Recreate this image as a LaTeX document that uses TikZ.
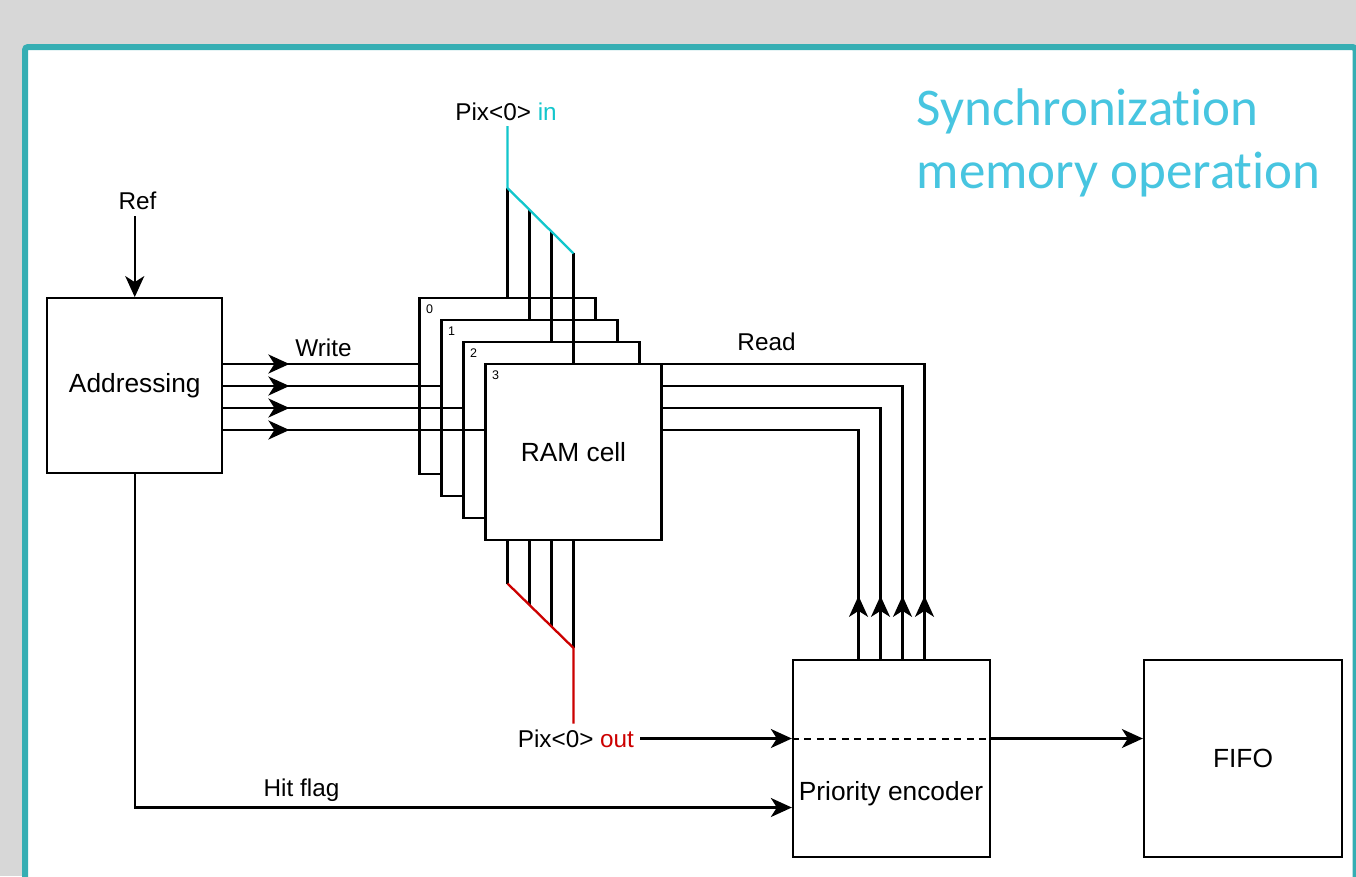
\documentclass[tikz,border=0pt]{standalone}
\usepackage{fontspec}
\setmainfont{Liberation Sans}
\newfontfamily\titlefont[Ligatures=NoCommon]{Carlito}
\usetikzlibrary{arrows.meta,decorations.markings}
\definecolor{framec}{HTML}{36AEB3}
\definecolor{bgc}{HTML}{D7D7D7}
\definecolor{titlec}{HTML}{47C5E0}
\definecolor{cyanc}{HTML}{12C6CC}
\definecolor{redc}{HTML}{CC0000}
\begin{document}
\begin{tikzpicture}[x=1pt,y=-1pt,line width=2.3pt,
  >={Stealth[length=21pt,width=19pt,inset=6pt]},
  box/.style={draw,fill=white,inner sep=0pt},
  bigtxt/.style={font=\fontsize{26.3}{31}\selectfont},
  smalltxt/.style={font=\fontsize{24.3}{29}\selectfont},
  tinytxt/.style={font=\fontsize{12.5}{15}\selectfont,inner sep=0pt},
  titletxt/.style={font=\fontsize{53}{64}\titlefont,text=titlec,inner sep=0pt,anchor=base west},
  midarr/.style={postaction={decorate,decoration={markings,mark=at position #1 with {\arrow{>}}}}}]
\useasboundingbox (0,0) rectangle (1356,876);
\fill[bgc] (0,0) rectangle (1356,876);
\draw[framec,line width=6pt,fill=white,rounded corners=3pt] (25,47) rectangle (1355.5,905);

% title
\node[titletxt] (title1) at (915.5,125) {Synchronization};
\node[titletxt] (title2) at (915.5,188) {memory operation};

% addressing
\node[box,bigtxt,minimum width=175pt,minimum height=175pt] (addr) at (134.75,385.75) {Addressing};
\node[smalltxt,anchor=base,inner sep=0pt,outer sep=7pt] (ref) at (137.5,209) {Ref};
\draw[->] (ref.south -| addr.north) -- (addr.north);

% RAM stack
\foreach \i in {0,...,3} {
  \node[box,minimum width=176pt,minimum height=176pt] (ram\i) at (507.5+22*\i,386+22*\i) {};
}
\node[bigtxt] (ramtxt) at (ram3.center) {RAM cell};
\foreach \i in {0,...,3} {
  \node[tinytxt] (n\i) at (429.5+22*\i,309+22*\i) {\i};
}

% Pix<0> in
\node[smalltxt,anchor=base,inner sep=0pt,outer sep=6pt] (pixin) at (506,120) {Pix<0> \textcolor{cyanc}{in}};
\foreach \i in {0,...,3} {
  \coordinate (tin\i) at (507.5+22*\i,188+21.8*\i);
  \coordinate (bout\i) at (507.5+22*\i,583.5+21.5*\i);
}
\foreach \i in {0,...,3} {
  \draw (tin\i) -- (ram\i.north);
  \draw (ram3.south -| bout\i) -- (bout\i);
}
\draw[cyanc] (pixin.south -| tin0) -- (tin0) -- (tin3);

% Pix<0> out
\node[smalltxt,anchor=east,inner sep=0pt,outer sep=6pt] (pixout) at (640,738.5) {Pix<0> \textcolor{redc}{out}};
\draw[redc] (bout0) -- (bout3) -- (pixout.north -| bout3);

% priority encoder and FIFO
\node[box,minimum width=197pt,minimum height=197pt] (pe) at (891.5,758.5) {};
\node[bigtxt,anchor=base,inner sep=0pt] (petxt) at (891,800) {Priority encoder};
\node[box,bigtxt,minimum width=198pt,minimum height=197pt] (fifo) at (1243,758.5) {FIFO};

\draw[->] (pixout.east) -- (pixout.east -| pe.west);
\draw[dash pattern=on 7pt off 5.5pt,line width=2pt] (pixout.east -| pe.west) -- (pixout.east -| pe.east);
\draw[->] (pixout.east -| pe.east) -- (pixout.east -| fifo.west);

% hit flag
\coordinate (hity) at (0,807.5);
\draw[->] (addr.south) |- (pe.west |- hity);
\node[smalltxt,anchor=base,inner sep=0pt] (hit) at (301.5,796) {Hit flag};

% write and read lines
\foreach \k in {0,...,3} {
  \coordinate (wy\k) at (0,364+22*\k);
  \coordinate (rx\k) at (924.5-22*\k,0);
}
\foreach \k in {0,...,3} {
  \draw[midarr=66pt] (addr.east |- wy\k) -- (ram\k.west |- wy\k);
  \draw[midarr=63pt] (pe.north -| rx\k) -- (rx\k |- wy\k) -- (ram3.east |- wy\k);
}
\node[smalltxt,anchor=base,inner sep=0pt] (write) at (323.5,356) {Write};
\node[smalltxt,anchor=base,inner sep=0pt] (read) at (766.5,350) {Read};
\end{tikzpicture}
\end{document}
